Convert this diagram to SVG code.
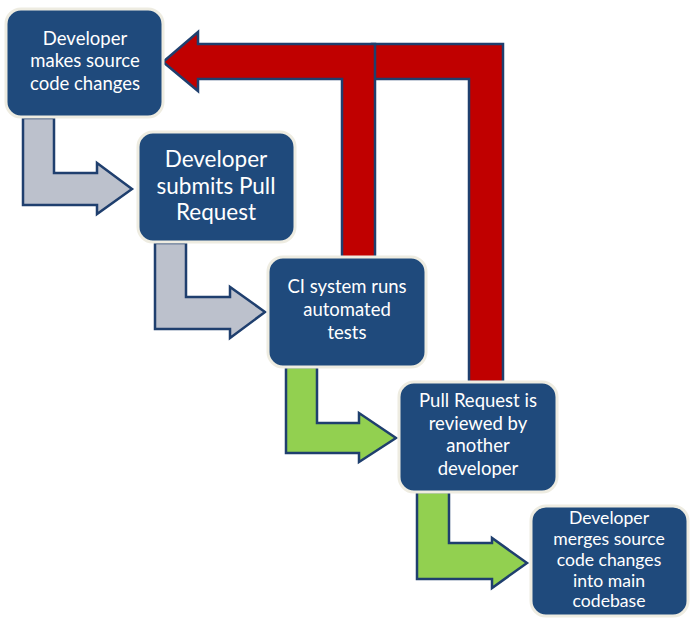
<svg xmlns="http://www.w3.org/2000/svg" width="693" height="619" viewBox="0 0 693 619">
<style>
.box{fill:#1f4a7c;stroke:#eeece1;stroke-width:3}
.t{fill:#ffffff;font-family:Lato,"Open Sans","Liberation Sans",sans-serif;font-size:18.5px;text-anchor:middle}
.big{font-size:22.5px}
.sm{font-size:17.6px}
.arr{stroke:#1f3f6e;stroke-width:2.5;stroke-linejoin:miter}
.gray{fill:#bcc1cc}
.green{fill:#92d050}
.red{fill:#c00000}
</style>
<rect width="693" height="619" fill="#ffffff"/>
<g id="connectors">
<polygon class="arr red" points="372,44 503,44 503,382 469,382 469,79 372,79"/>
<polygon class="arr red" points="163,62 198,32 198,44 375,44 375,258 342,258 342,79 198,79 198,91"/>
<polygon class="arr gray" points="23,118 54,118 54,173 97,173 97,163 132,189 97,214 97,205 23,205"/>
<polygon class="arr gray" points="155,243 186,243 186,297 230,297 230,287 265,312 230,338 230,329 155,329"/>
<polygon class="arr green" points="286,367 317,367 317,423 359,423 359,413 396,438 359,462 359,453 286,453"/>
<polygon class="arr green" points="417,492 449,492 449,543 492,543 492,538 527,563 492,588 492,579 417,579"/>
</g>
<g id="node1">
<rect class="box" x="6" y="9" width="157" height="108" rx="15"/>
<text class="t" x="85" y="45">Developer</text>
<text class="t" x="85" y="67">makes source</text>
<text class="t" x="85" y="90">code changes</text>
</g>
<g id="node2">
<rect class="box" x="138" y="132" width="157" height="110" rx="15"/>
<text class="t big" x="216" y="167">Developer</text>
<text class="t big" x="216" y="194">submits Pull</text>
<text class="t big" x="216" y="220">Request</text>
</g>
<g id="node3">
<rect class="box" x="268" y="257" width="158" height="110" rx="15"/>
<text class="t" x="347" y="293">CI system runs</text>
<text class="t" x="347" y="316">automated</text>
<text class="t" x="347" y="339">tests</text>
</g>
<g id="node4">
<rect class="box" x="399" y="382" width="158" height="110" rx="15"/>
<text class="t" x="478" y="407">Pull Request is</text>
<text class="t" x="478" y="430">reviewed by</text>
<text class="t" x="478" y="452">another</text>
<text class="t" x="478" y="475">developer</text>
</g>
<g id="node5">
<rect class="box" x="531" y="506" width="157" height="110" rx="15"/>
<text class="t sm" x="609" y="524">Developer</text>
<text class="t sm" x="609" y="545">merges source</text>
<text class="t sm" x="609" y="566">code changes</text>
<text class="t sm" x="609" y="587">into main</text>
<text class="t sm" x="609" y="607">codebase</text>
</g>
</svg>
